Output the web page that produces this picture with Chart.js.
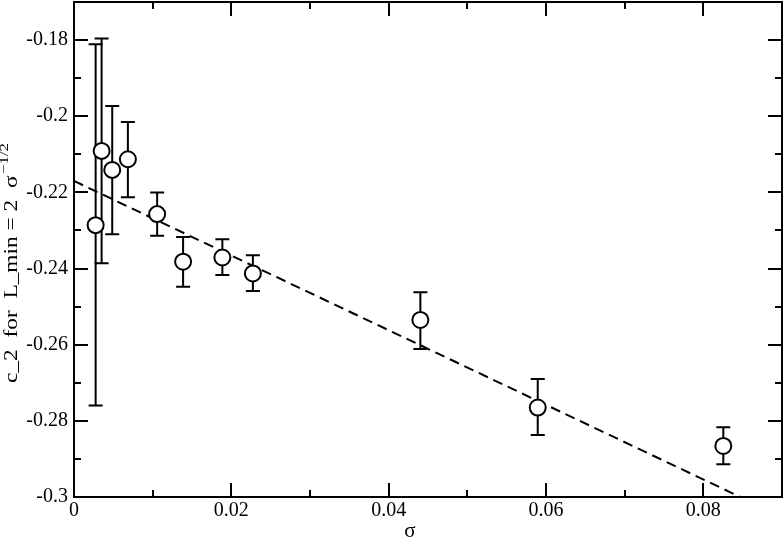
<!DOCTYPE html>
<html><head><meta charset="utf-8">
<script src="https://cdn.jsdelivr.net/npm/chart.js@4/dist/chart.umd.min.js"></script>
<style>html,body{margin:0;padding:0;background:#fff}#wrap{width:784px;height:545px;position:relative}</style>
</head><body><div id="wrap"><canvas id="c" width="784" height="545"></canvas></div>
<script>
const sigma   = [0.00275, 0.00351, 0.00486, 0.00685, 0.01057, 0.01387, 0.01886, 0.02274, 0.04403, 0.05895, 0.08254];
const c2      = [-0.2286, -0.2091, -0.2141, -0.2113, -0.2257, -0.2382, -0.2371, -0.2413, -0.2535, -0.2765, -0.2866];
const errHigh = [-0.1811, -0.1796, -0.1973, -0.2015, -0.2200, -0.2317, -0.2323, -0.2365, -0.2462, -0.2690, -0.2817];
const errLow  = [-0.2760, -0.2386, -0.2310, -0.2213, -0.2314, -0.2448, -0.2417, -0.2459, -0.2611, -0.2837, -0.2914];
const fitX = [0, 0.0847];
const fitY = [-0.2170, -0.3000];
const xTicks = [0, 0.02, 0.04, 0.06, 0.08];
const yTicks = [-0.3, -0.28, -0.26, -0.24, -0.22, -0.2, -0.18];
const xTitle = 'σ';
const yTitleMain = 'c_2  for  L_min = 2  σ';
const yTitleSup = '−1/2';

const FONT = '"Liberation Serif", "DejaVu Serif", serif';
const fmt = v => String(+v.toFixed(4));

const framePlugin = {
  id: 'frame',
  beforeDatasetsDraw(chart) {
    const ctx = chart.ctx, xs = chart.scales.x, ys = chart.scales.y;
    ctx.save();
    ctx.strokeStyle = '#000'; ctx.lineWidth = 2;
    for (let i = 0; i < sigma.length; i++) {
      const px = xs.getPixelForValue(sigma[i]);
      const t = ys.getPixelForValue(errHigh[i]);
      const b = ys.getPixelForValue(errLow[i]);
      ctx.beginPath();
      ctx.moveTo(px, t); ctx.lineTo(px, b);
      ctx.moveTo(px - 7, t); ctx.lineTo(px + 7, t);
      ctx.moveTo(px - 7, b); ctx.lineTo(px + 7, b);
      ctx.stroke();
    }
    ctx.restore();
  },
  afterDraw(chart) {
    const ctx = chart.ctx, a = chart.chartArea, xs = chart.scales.x, ys = chart.scales.y;
    ctx.save();
    ctx.strokeStyle = '#000'; ctx.lineWidth = 2;
    ctx.strokeRect(a.left, a.top, a.right - a.left, a.bottom - a.top);
    const MAJ = 14, MIN = 7;
    ctx.beginPath();
    const xt = [];
    xTicks.forEach((v, i) => { xt.push([v, MAJ]); if (i < xTicks.length - 1) xt.push([(v + xTicks[i + 1]) / 2, MIN]); });
    xt.forEach(([v, L]) => {
      const p = Math.round(xs.getPixelForValue(v));
      ctx.moveTo(p, a.bottom); ctx.lineTo(p, a.bottom - L);
      ctx.moveTo(p, a.top); ctx.lineTo(p, a.top + L);
    });
    const yt = [];
    yTicks.forEach((v, i) => { yt.push([v, MAJ]); if (i < yTicks.length - 1) yt.push([(v + yTicks[i + 1]) / 2, MIN]); });
    yt.forEach(([v, L]) => {
      const p = Math.round(ys.getPixelForValue(v));
      ctx.moveTo(a.left, p); ctx.lineTo(a.left + L, p);
      ctx.moveTo(a.right, p); ctx.lineTo(a.right - L, p);
    });
    ctx.stroke();

    // titles
    ctx.fillStyle = '#000';
    ctx.font = '21px ' + FONT;
    ctx.textAlign = 'center'; ctx.textBaseline = 'alphabetic';
    ctx.fillText(xTitle, a.left + 336, 537);

    ctx.save();
    ctx.translate(17, 263);
    ctx.rotate(-Math.PI / 2);
    ctx.textAlign = 'left';
    ctx.font = '18px ' + FONT;
    const w1 = ctx.measureText(yTitleMain).width;
    ctx.font = '13px ' + FONT;
    const w2 = ctx.measureText(yTitleSup).width;
    const total = w1 + w2 + 1;
    const k = 240 / total;
    ctx.scale(k, 1);
    const start = -total / 2;
    ctx.font = '18px ' + FONT;
    ctx.fillText(yTitleMain, start, 0);
    ctx.font = '13px ' + FONT;
    ctx.fillText(yTitleSup, start + w1 + 1, -9);
    ctx.restore();
    ctx.restore();
  }
};

new Chart(document.getElementById('c'), {
  type: 'scatter',
  data: {
    datasets: [
      {
        data: sigma.map((x, i) => ({ x, y: c2[i] })),
        pointStyle: 'circle', pointRadius: 8, pointHoverRadius: 8,
        borderColor: '#000', backgroundColor: '#fff', borderWidth: 2,
        showLine: false
      },
      {
        data: fitX.map((x, i) => ({ x, y: fitY[i] })),
        showLine: true, borderColor: '#000', borderWidth: 2, borderDash: [10, 6],
        pointRadius: 0, fill: false
      }
    ]
  },
  plugins: [framePlugin],
  options: {
    responsive: false, animation: false,
    layout: { autoPadding: false, padding: { top: 2, right: 2, left: 0, bottom: 0 } },
    plugins: { legend: { display: false }, tooltip: { enabled: false } },
    scales: {
      x: {
        type: 'linear', min: 0, max: 0.09,
        afterBuildTicks: s => { s.ticks = xTicks.map(v => ({ value: v })); },
        afterFit: s => { s.height = 48; s.paddingLeft = 0; s.paddingRight = 0; },
        grid: { display: false, drawTicks: false },
        border: { display: false },
        ticks: { callback: v => fmt(v), color: '#000', font: { family: FONT, size: 20 }, padding: 2, maxRotation: 0, autoSkip: false }
      },
      y: {
        type: 'linear', min: -0.3, max: -0.17,
        afterBuildTicks: s => { s.ticks = yTicks.map(v => ({ value: v })); },
        afterFit: s => { s.width = 74; s.paddingTop = 0; s.paddingBottom = 0; },
        grid: { display: false, drawTicks: false },
        border: { display: false },
        ticks: { callback: v => fmt(v), color: '#000', font: { family: FONT, size: 20 }, padding: 6, autoSkip: false }
      }
    }
  }
});
</script></body></html>
